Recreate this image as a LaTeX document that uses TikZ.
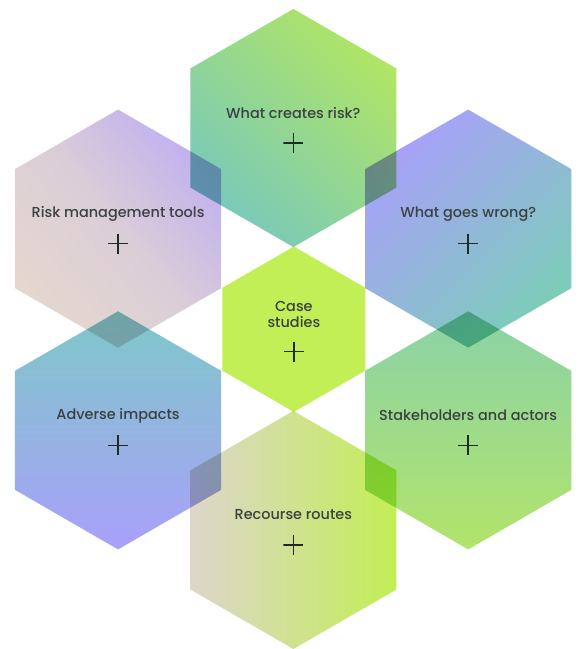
\documentclass[tikz,border=0pt]{standalone}
\usepackage{fontspec}
\setmainfont{Poppins}[UprightFont=* Medium]
\usetikzlibrary{shapes.geometric,positioning}
\definecolor{hxInk}{HTML}{3A4141}
\definecolor{hxDark}{HTML}{1F2B24}
\definecolor{hxLime}{HTML}{B0E565}
\definecolor{hxTeal}{HTML}{78C9BC}
\definecolor{hxBeige}{HTML}{E4D7CF}
\definecolor{hxLavender}{HTML}{C0B0F0}
\definecolor{hxViolet}{HTML}{A9A0FA}
\definecolor{hxSea}{HTML}{7CCDB9}
\definecolor{hxAqua}{HTML}{7EC8C8}
\definecolor{hxMint}{HTML}{8AD2A8}
\definecolor{hxGreen}{HTML}{B2E46A}
\definecolor{hxSand}{HTML}{DDD6CB}
\definecolor{hxChartreuse}{HTML}{C2EE55}
\definecolor{hxCore}{HTML}{C1EF55}
\tikzset{
  hexbig/.style={regular polygon,regular polygon sides=6,
    regular polygon rotate=30,
    inner sep=0pt,minimum size=239pt,draw=none},
  hexsmall/.style={regular polygon,regular polygon sides=6,
    regular polygon rotate=30,
    inner sep=0pt,minimum size=166pt,draw=none},
  hxlabel/.style={font=\fontsize{14.5}{16}\selectfont,
    text=hxInk,align=center,inner sep=0pt},
  plusmark/.style={rectangle,minimum size=20pt,inner sep=0pt,
    path picture={\draw[hxDark,line width=1.5pt]
      (path picture bounding box.west) -- (path picture bounding box.east)
      (path picture bounding box.north) -- (path picture bounding box.south);}},
}

\begin{document}
\begin{tikzpicture}[x=1pt,y=-1pt]
  % page
  \fill[white] (0,0) rectangle (580,649);

  \begin{scope}[blend mode=multiply]
    % Outer ring
    \node[hexbig,top color=hxLime,bottom color=hxTeal,shading angle=-45]
      (creates) at (294.5,128.5) {};
    \node[hexbig,top color=hxLavender,bottom color=hxBeige,
      middle color=hxBeige!75!hxLavender,shading angle=-50]
      (tools) at (118.5,229.5) {};
    \node[hexbig,top color=hxViolet,bottom color=hxSea,shading angle=45]
      (wrong) at (470,229.5) {};
    \node[hexbig,top color=hxAqua,bottom color=hxViolet]
      (impacts) at (118.5,432) {};
    \node[hexbig,top color=hxMint,bottom color=hxGreen]
      (actors) at (470,432) {};
    \node[hexbig,left color=hxSand,right color=hxChartreuse]
      (recourse) at (294.5,532) {};

    % Centre
    \node[hexsmall,fill=hxCore] (cases) at (295,330.5) {};
  \end{scope}

  % Titles
  \node[hxlabel] (creates-text) at ([yshift=15pt]creates.center) {What creates risk?};
  \node[hxlabel] (tools-text) at ([yshift=15pt]tools.center) {Risk management tools};
  \node[hxlabel] (wrong-text) at ([yshift=15pt]wrong.center) {What goes wrong?};
  \node[hxlabel] (impacts-text) at ([yshift=15pt]impacts.center) {Adverse impacts};
  \node[hxlabel] (actors-text) at ([yshift=15pt]actors.center) {Stakeholders and actors};
  \node[hxlabel] (recourse-text) at ([yshift=15pt]recourse.center) {Recourse routes};
  \node[hxlabel] (cases-text) at ([yshift=15pt]cases.center) {Case\\studies};

  % Plus marks
  \node[plusmark] (creates-plus) at ([yshift=-15pt]creates.center) {};
  \node[plusmark] (tools-plus) at ([yshift=-15pt]tools.center) {};
  \node[plusmark] (wrong-plus) at ([yshift=-15pt]wrong.center) {};
  \node[plusmark] (impacts-plus) at ([yshift=-15pt]impacts.center) {};
  \node[plusmark] (actors-plus) at ([yshift=-15pt]actors.center) {};
  \node[plusmark] (recourse-plus) at ([yshift=-15pt]recourse.center) {};
  \node[plusmark] (cases-plus) at ([yshift=-22.5pt]cases.center) {};

  \useasboundingbox (0,0) rectangle (580,649);
\end{tikzpicture}
\end{document}
